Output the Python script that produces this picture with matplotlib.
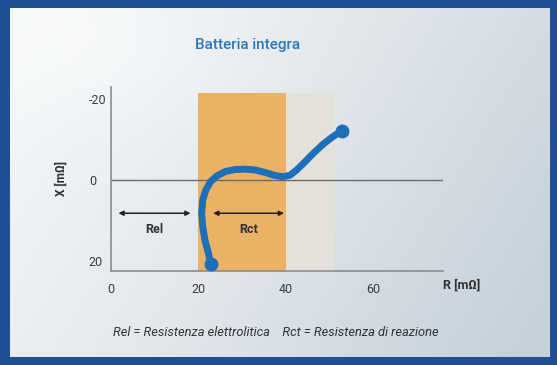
import numpy as np
import matplotlib.pyplot as plt
from matplotlib.colors import LinearSegmentedColormap

plt.rcParams['font.family'] = ['Roboto', 'DejaVu Sans']

# Dati
curva_r = [22.8, 22.3, 21.5, 21.0, 20.75, 21.0, 21.7, 22.8, 24.2, 26.1, 28.4, 30.7,
           33.0, 35.2, 37.5, 39.3, 41.0, 42.5, 44.4, 46.3, 48.6, 50.5, 52.8]
curva_x = [20.8, 18.1, 14.8, 11.5, 8.2, 4.9, 2.5, 0.4, -1.0, -2.1, -2.6, -2.7,
           -2.5, -1.9, -1.15, -0.8, -1.2, -2.5, -4.5, -6.6, -8.9, -10.5, -12.2]
x_ticks = [0, 20, 40, 60]
y_ticks = [-20, 0, 20]
banda_rct = (20, 40)
banda_extra = (40, 51)
top_bande = -21.6
freccia_rel = (1.7, 18.2)
freccia_rct = (23.4, 39.6)

fig = plt.figure(figsize=(5.57, 3.65), dpi=100)
fig.patch.set_facecolor('#1f5096')

# pannello con sfumatura
bg = fig.add_axes([10/557, 1-357/365, 540/557, 349/365])
gx = np.linspace(0, 1, 200)
gy = np.linspace(0, 1, 120)
GX, GY = np.meshgrid(gx, gy)
val = np.clip(0.75*GX + 0.3*GY - 0.12*np.exp(-((GX-0.25)**2 + (GY-0.15)**2)/0.05), 0, 1)
cmap = LinearSegmentedColormap.from_list('bg', ['#f7f9fa', '#e2e7eb', '#c6d1da'])
bg.imshow(val, cmap=cmap, aspect='auto', extent=[0, 1, 0, 1], origin='upper')
bg.axis('off')

ax = fig.add_axes([111/557, 1-270.7/365, 332/557, 183.7/365])
ax.set_facecolor('none')
ax.set_xlim(0, 76)
ax.set_ylim(22.4, -23)

ax.fill_between(banda_rct, 22.4, top_bande, color='#ebb265', lw=0, zorder=1)
ax.fill_between(banda_extra, 22.4, top_bande, color='#e4e1da', lw=0, zorder=1)
ax.axhline(0, color='#6b6b6b', lw=1, zorder=2)

ax.plot(curva_r, curva_x, color='#1d6fb8', lw=5, solid_capstyle='round',
        solid_joinstyle='round', zorder=4)
ax.plot([curva_r[0], curva_r[-1]], [curva_x[0], curva_x[-1]], 'o',
        color='#1d6fb8', ms=9, zorder=5)

for (a, b), lab in [(freccia_rel, 'Rel'), (freccia_rct, 'Rct')]:
    ax.annotate('', xy=(a, 8.2), xytext=(b, 8.2),
                arrowprops=dict(arrowstyle='<|-|>', color='#222222', lw=1.1,
                                mutation_scale=7, shrinkA=0, shrinkB=0), zorder=3)
    ax.text((a+b)/2, 12.3, lab, ha='center', va='center', fontsize=9,
            fontweight='bold', color='#333333', zorder=3)

for s in ['top', 'right']:
    ax.spines[s].set_visible(False)
for s in ['left', 'bottom']:
    ax.spines[s].set_color('#8c8c8c')
    ax.spines[s].set_linewidth(1.2)

ax.set_xticks(x_ticks)
ax.set_yticks(y_ticks)
ax.set_xticklabels([str(t) for t in x_ticks])
ax.set_yticklabels([str(t) for t in y_ticks])
ax.tick_params(length=0, labelsize=9, labelcolor='#3c3c3c')
ax.tick_params(axis='x', pad=9)
ax.tick_params(axis='y', pad=16)
for t in ax.get_yticklabels():
    t.set_horizontalalignment('left')

fig.text(248/557, 1-45/365, 'Batteria integra', ha='center', va='center',
         fontsize=11, color='#2a78b8', fontweight='medium')
fig.text(462/557, 1-285/365, 'R [mΩ]', ha='center', va='center',
         fontsize=9, fontweight='bold', color='#333333')
fig.text(61/557, 1-178/365, 'X [mΩ]', ha='center', va='center', rotation=90,
         fontsize=8.5, fontweight='bold', color='#333333')
fig.text(113/557, 1-333/365,
         'Rel = Resistenza elettrolitica    Rct = Resistenza di reazione',
         ha='left', va='center', fontsize=9.3, style='italic', color='#333333')

fig.savefig('out.png', dpi=100, facecolor=fig.get_facecolor())
